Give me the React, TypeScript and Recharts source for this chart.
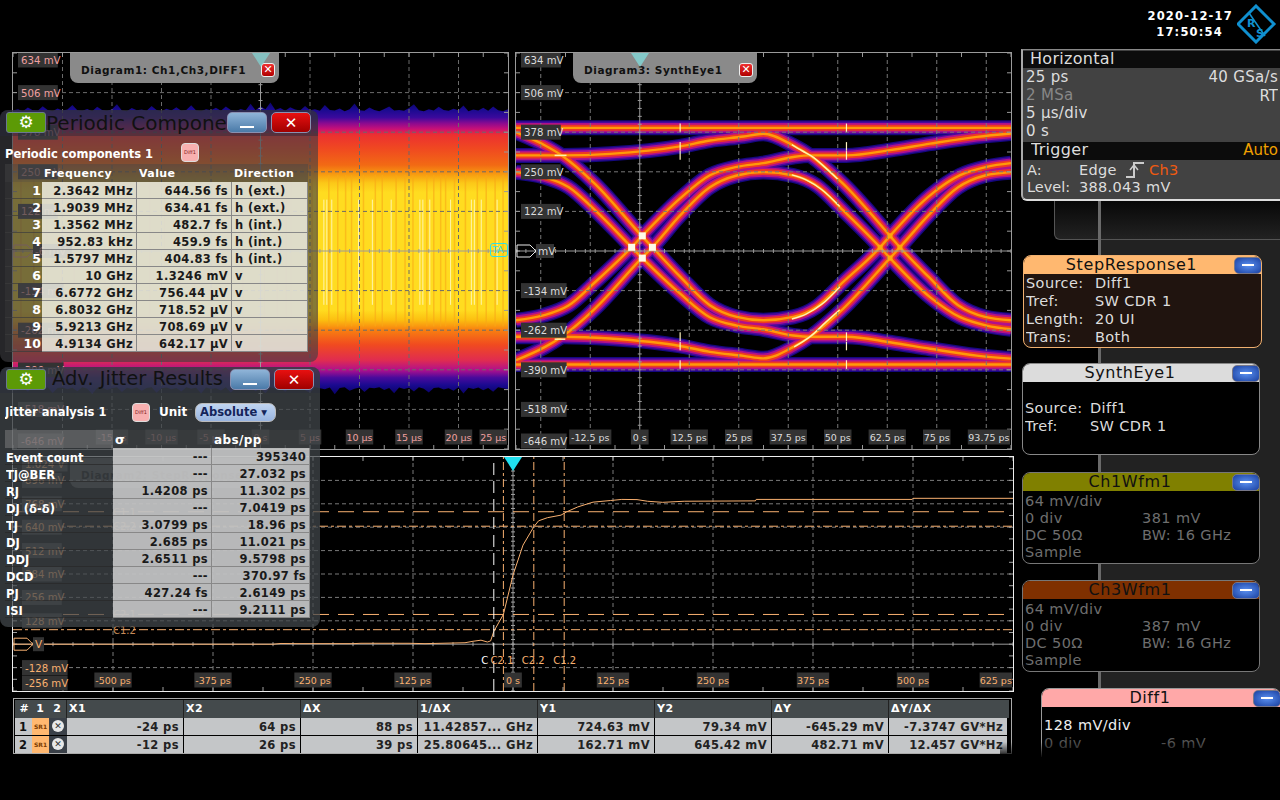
import React from 'react'
import { Area, ComposedChart, Line, ReferenceDot, ReferenceLine, XAxis, YAxis } from 'recharts'

const FONT = '"DejaVu Sans", sans-serif'

// Diagram 1: envelope of the waveform, mV against µs
const bandTimes = [-25, -24.5, -24, -23.5, -23, -22.5, -22, -21.5, -21, -20.5, -20, -19.5, -19, -18.5, -18, -17.5, -17, -16.5, -16, -15.5, -15, -14.5, -14, -13.5, -13, -12.5, -12, -11.5, -11, -10.5, -10, -9.5, -9, -8.5, -8, -7.5, -7, -6.5, -6, -5.5, -5, -4.5, -4, -3.5, -3, -2.5, -2, -1.5, -1, -0.5, 0, 0.5, 1, 1.5, 2, 2.5, 3, 3.5, 4, 4.5, 5, 5.5, 6, 6.5, 7, 7.5, 8, 8.5, 9, 9.5, 10, 10.5, 11, 11.5, 12, 12.5, 13, 13.5, 14, 14.5, 15, 15.5, 16, 16.5, 17, 17.5, 18, 18.5, 19, 19.5, 20, 20.5, 21, 21.5, 22, 22.5, 23, 23.5, 24, 24.5, 25]
const bandTop = [448, 452, 446, 458, 449, 447, 462, 450, 446, 455, 448, 451, 466, 449, 447, 453, 446, 460, 450, 447, 452, 468, 448, 446, 456, 449, 451, 447, 463, 450, 446, 454, 448, 459, 447, 450, 465, 448, 446, 452, 449, 457, 447, 461, 450, 446, 453, 448, 470, 449, 462, 452, 474, 450, 456, 447, 459, 451, 448, 463, 449, 452, 447, 466, 450, 448, 455, 446, 452, 471, 449, 447, 458, 450, 446, 453, 461, 448, 450, 447, 456, 468, 449, 446, 452, 448, 460, 450, 447, 454, 449, 464, 446, 451, 448, 457, 447, 461, 449, 446, 452]
const bandBottom = [-446, -452, -448, -461, -447, -450, -456, -446, -465, -449, -447, -453, -448, -459, -446, -451, -468, -449, -447, -455, -450, -446, -462, -448, -452, -447, -458, -449, -446, -464, -450, -447, -453, -449, -460, -446, -451, -448, -467, -447, -452, -450, -457, -446, -463, -449, -448, -454, -447, -459, -450, -466, -446, -452, -449, -461, -447, -451, -448, -456, -464, -446, -450, -453, -447, -469, -449, -446, -458, -451, -447, -462, -448, -450, -446, -455, -449, -466, -447, -452, -448, -460, -446, -451, -463, -449, -447, -454, -450, -458, -446, -467, -448, -452, -447, -456, -449, -461, -446, -450, -453]
const amberStreaks = [-24.2, -22.9, -21.6, -20.1, -18.8, -17.4, -15.7, -14.3, -12.6, -11.2, -9.7, -8.1, -6.6, -4.9, -3.3, -1.8, 0.4, 1.7, 2.6, 3.1, 4.6, 5.2, 5.7, 6.9, 7.8, 8.6, 9.2, 10.4, 11.6, 12.3, 13.7, 14.6, 15.4, 16.8, 17.5, 18.2, 18.7, 19.6, 20.7, 21.9, 22.8, 23.7, 24.5]
const paleStreaks = [6.4, 6.7, 7.2, 9.9, 11.3, 13.2, 16.1, 16.4, 17.1, 19.2, 21.3, 21.6, 22.3, 23.9]
const diagram1XTicks = [-15, -10, -5, 0, 5, 10, 15, 20, 25]
const diagram1YTicks = [-646, -518, -390, -262, -134, -6, 122, 250, 378, 506, 634]

// Diagram 3: synthetic eye, [ps, mV] along each trace
const eyeTraces = [
  [[-31.25, 392], [93.75, 392]],
  [[-31.25, -373], [93.75, -373]],
  [[-31.25, -230], [-24.35, -214], [-18, -182], [-11.3, -107], [-2.05, 6], [0.65, 43], [10.2, 164], [17.7, 239], [24.5, 266], [31.2, 278], [38.8, 298], [43, 303], [52.2, 303], [63.2, 320], [73.3, 341], [85.1, 363], [93.75, 374]],
  [[-31.25, -359], [-23.9, -316], [-19.7, -283], [-11.3, -192], [0.5, -29], [3.2, 6], [10.2, 109], [17.7, 200], [24.5, 238], [31.2, 249], [38.8, 238], [44.7, 206], [51.4, 125], [60.7, 6], [63.2, -29], [73.3, -155], [80.9, -220], [87.6, -247], [93.75, -259]],
  [[-31.25, 249], [-24.35, 234], [-18, 201], [-11.3, 126], [-2.05, 6], [0.65, -29], [10.2, -144], [17.7, -220], [24.5, -247], [31.2, -259], [38.8, -279], [43, -283], [52.2, -283], [63.2, -301], [73.3, -322], [85.1, -344], [93.75, -354]],
  [[-31.25, 378], [-23.9, 335], [-19.7, 303], [-11.3, 211], [0.5, 43], [3.2, 6], [10.2, -89], [17.7, -181], [24.5, -219], [31.2, -230], [38.8, -219], [44.7, -186], [51.4, -106], [60.7, 6], [63.2, 43], [73.3, 174], [80.9, 239], [87.6, 266], [93.75, 278]],
  [[-31.25, 303], [-19.3, 303], [-7.5, 308], [10.2, 332], [17.7, 351], [26.2, 364], [31.2, 373], [38.8, 335], [43, 303], [51.4, 211], [63.2, 43], [65.7, 6], [72.9, -89], [80.4, -181], [87.2, -219], [93.75, -230]],
  [[-31.25, -283], [-19.3, -283], [-7.5, -289], [10.2, -313], [17.7, -332], [26.2, -345], [31.2, -353], [38.8, -316], [43, -283], [51.4, -192], [63.2, -29], [65.7, 6], [72.9, 109], [80.4, 200], [87.2, 238], [93.75, 249]],
]
const eyeHotSegments = [
  [[38.4, 338], [41, 318], [43.5, 300], [47, 262], [50, 226]],
  [[38.4, 240], [42, 224], [46, 192], [50.5, 138]],
  [[38.4, -226], [42, -210], [46, -178], [50.5, -122]],
  [[39, -316], [43, -283], [47, -236], [50.5, -196]],
  [[-21.5, 303], [-18.5, 303]],
  [[-21.5, -291], [-18.8, -291]],
]
const eyeHotTicks = [10.2, 52.2]
const eyeCrossLeft = [[-2.05, 6], [3.2, 6], [0.65, 43], [0.65, -29]]
const eyeCrossRight = [[60.7, 6], [65.7, 6], [63.2, 43], [63.2, -29]]
const eyeXTicks = [-12.5, 0, 12.5, 25, 37.5, 50, 62.5, 75, 93.75]
const eyeXGrid = [-25, -12.5, 12.5, 25, 37.5, 50, 62.5, 75, 87.5]
const eyeLayers = [
  { color: '#14087e', width: 15 },
  { color: '#4a0a9c', width: 12.5 },
  { color: '#b0108c', width: 9.5 },
  { color: '#ee3a22', width: 6 },
  { color: '#ff9a08', width: 2.4 },
]

// Diagram 2: step response, mV against ps
const stepTimes = [-625, -380, -300, -290, -270, -200, -190, -130, -110, -60, -50, -40, -32, -28, -24, -12, 0, 12.5, 26, 32, 43, 60, 67, 81, 100, 122, 136, 155, 168, 187, 214, 303, 304, 499, 500, 625]
const stepValues = [0, 0, 0, 4, 3, 3, 5, 5, 3, 8, 16, 22, 12, 18, 70, 163, 378, 542, 642, 675, 692, 706, 724, 751, 777, 786, 792, 791, 782, 776, 782, 784, 792, 792, 798, 798]
const stepXTicks = [-500, -375, -250, -125, 0, 125, 250, 375, 500, 625]
const stepYTicks = [-256, -128, 0, 128, 256, 384, 512, 640, 768, 896, 1024]

// Cursor table, also where the cursor lines sit
const cursorHeaders = ['X1', 'X2', 'ΔX', '1/ΔX', 'Y1', 'Y2', 'ΔY', 'ΔY/ΔX']
const cursorRows = [
  ['-24 ps', '64 ps', '88 ps', '11.42857... GHz', '724.63 mV', '79.34 mV', '-645.29 mV', '-7.3747 GV*Hz'],
  ['-12 ps', '26 ps', '39 ps', '25.80645... GHz', '162.71 mV', '645.42 mV', '482.71 mV', '12.457 GV*Hz'],
]
const cursorX = [-24, 64, -12, 26]
const cursorY = [724.63, 79.34, 162.71, 645.42]
const cursorNames = ['C1.1', 'C1.2', 'C2.1', 'C2.2']

const periodicFreq = ['2.3642 MHz', '1.9039 MHz', '1.3562 MHz', '952.83 kHz', '1.5797 MHz', '10 GHz', '6.6772 GHz', '6.8032 GHz', '5.9213 GHz', '4.9134 GHz']
const periodicValue = ['644.56 fs', '634.41 fs', '482.7 fs', '459.9 fs', '404.83 fs', '1.3246 mV', '756.44 µV', '718.52 µV', '708.69 µV', '642.17 µV']
const periodicDir = ['h (ext.)', 'h (ext.)', 'h (int.)', 'h (int.)', 'h (int.)', 'v', 'v', 'v', 'v', 'v']

const jitterNames = ['Event count', 'TJ@BER', 'RJ', 'DJ (δ-δ)', 'TJ', 'DJ', 'DDJ', 'DCD', 'PJ', 'ISI']
const jitterSigma = ['---', '---', '1.4208 ps', '---', '3.0799 ps', '2.685 ps', '2.6511 ps', '---', '427.24 fs', '---']
const jitterAbs = ['395340', '27.032 ps', '11.302 ps', '7.0419 ps', '18.96 ps', '11.021 ps', '9.5798 ps', '370.97 fs', '2.6149 ps', '9.2111 ps']

const pts = (list: number[][]) => list.map(([t, v]) => ({ t, v }))
const bandRows = bandTimes.map((t, i) => ({ t, band: [bandBottom[i], bandTop[i]] }))
const stepRows = stepTimes.map((t, i) => ({ t, v: stepValues[i] }))

function Abs({ x, y, w, h, style, children }: any) {
  return <div style={{ position: 'absolute', left: x, top: y, width: w, height: h, ...style }}>{children}</div>
}

// one line of text, y is its vertical centre
function Label({ x, y, w, align = 'left', size = 11, bold = false, color = '#fff', spacing = 0, children }: any) {
  return (
    <div style={{ position: 'absolute', left: x, top: y - 12, width: w, height: 24, lineHeight: '24px', textAlign: align, fontSize: size, fontWeight: bold ? 700 : 400, color, letterSpacing: spacing, whiteSpace: 'pre', fontFamily: FONT, overflow: 'hidden' }}>
      {children}
    </div>
  )
}

function yTick(chartH: number, boxX: number, color: string, format: (v: number) => string, center: number, marker: string) {
  return (props: any) => {
    const value = props.payload.value
    let y = props.y
    if (y < 8) y = 7
    if (y > chartH - 9) y = chartH - 8
    const text = format(value)
    if (value === center) {
      return (
        <g>
          <path d={`M1 ${y - 6} H14 L20 ${y} L14 ${y + 6} H1 Z`} fill="none" stroke={marker} strokeWidth={1} />
          <rect x={20} y={y - 7} width={text.length * 7 + 4} height={14} fill="#333" />
          <text x={22} y={y + 4} fontSize={10.5} fontFamily={FONT} fill={color}>{text}</text>
        </g>
      )
    }
    return (
      <g>
        <rect x={boxX} y={y - 7.5} width={text.length * 5.8 + 5} height={15} fill="#333" />
        <text x={boxX + 3} y={y + 4} fontSize={10.2} fontFamily={FONT} fill={color}>{text}</text>
      </g>
    )
  }
}

function xTick(chartW: number, chartH: number, rowY: number, color: string, format: (v: number) => string) {
  return (props: any) => {
    const text = format(props.payload.value)
    const boxW = text.length * 4.9 + 3
    let x = props.x
    if (x + boxW / 2 > chartW - 1) x = chartW - 1 - boxW / 2
    return (
      <g>
        <rect x={x - boxW / 2} y={chartH - rowY - 7.5} width={boxW} height={15} fill="#333" />
        <text x={x} y={chartH - rowY + 4} textAnchor="middle" fontSize={9.5} fontFamily={FONT} fill={color}>{text}</text>
      </g>
    )
  }
}

function gridLines(xs: number[], ys: number[], stroke: string, x0: number, y0: number) {
  return [
    ...xs.map((x) => <ReferenceLine key={`gx${x}`} x={x} stroke={stroke} strokeDasharray="4 3" />),
    ...ys.map((y) => <ReferenceLine key={`gy${y}`} y={y} stroke={stroke} strokeDasharray="4 3" />),
    <ReferenceLine key="cx" x={x0} stroke="#9a9a9a" />,
    <ReferenceLine key="cy" y={y0} stroke="#9a9a9a" />,
  ]
}

// graticule ticks along the frame and the two centre lines
function fineMarks(xd: number[], yd: number[], x0: number, y0: number, pxX: number, pxY: number, stroke: string) {
  const out: React.ReactNode[] = []
  const xDiv = (xd[1] - xd[0]) / 10
  const yDiv = (yd[1] - yd[0]) / 10
  const lenY = (yDiv / pxY) * 4
  const lenX = (xDiv / pxX) * 4
  const seg = (k: string, a: number, b: number, c: number, d: number) => (
    <ReferenceLine key={k} segment={[{ x: a, y: b }, { x: c, y: d }]} stroke={stroke} />
  )
  for (let i = 0; i <= 20; i++) {
    const t = xd[0] + (i * xDiv) / 2
    const v = yd[0] + (i * yDiv) / 2
    out.push(seg(`t${i}`, t, yd[1], t, yd[1] - lenY))
    out.push(seg(`b${i}`, t, yd[0], t, yd[0] + lenY))
    out.push(seg(`l${i}`, xd[0], v, xd[0] + lenX, v))
    out.push(seg(`r${i}`, xd[1], v, xd[1] - lenX, v))
  }
  for (let i = 0; i <= 50; i++) {
    const t = xd[0] + (i * xDiv) / 5
    const v = yd[0] + (i * yDiv) / 5
    out.push(seg(`cx${i}`, t, y0 - lenY / 2, t, y0 + lenY / 2))
    out.push(seg(`cy${i}`, x0 - lenX / 2, v, x0 + lenX / 2, v))
  }
  return out
}

function Diagram1() {
  const W = 495
  const H = 396
  const xd = [-25, 25]
  const yd = [-646, 634]
  return (
    <ComposedChart width={W} height={H} data={bandRows} margin={{ top: 0, right: 0, bottom: 0, left: 0 }}>
      <defs>
        <linearGradient id="bandFill" gradientUnits="userSpaceOnUse" x1="0" y1="50" x2="0" y2="339">
          <stop offset="0" stopColor="#0c0470" />
          <stop offset="0.024" stopColor="#1a0a90" />
          <stop offset="0.05" stopColor="#3a0a9c" />
          <stop offset="0.07" stopColor="#8a0a90" />
          <stop offset="0.09" stopColor="#c81078" />
          <stop offset="0.11" stopColor="#ec3030" />
          <stop offset="0.16" stopColor="#f04a20" />
          <stop offset="0.215" stopColor="#f26a14" />
          <stop offset="0.25" stopColor="#f8a010" />
          <stop offset="0.277" stopColor="#fcc818" />
          <stop offset="0.31" stopColor="#ffdc20" />
          <stop offset="0.716" stopColor="#ffdc20" />
          <stop offset="0.75" stopColor="#fcc010" />
          <stop offset="0.785" stopColor="#f88010" />
          <stop offset="0.837" stopColor="#f04a20" />
          <stop offset="0.89" stopColor="#e02c50" />
          <stop offset="0.924" stopColor="#b0108c" />
          <stop offset="0.95" stopColor="#4a0a9c" />
          <stop offset="0.976" stopColor="#1a0a90" />
          <stop offset="1" stopColor="#0c0470" />
        </linearGradient>
      </defs>
      <XAxis dataKey="t" type="number" domain={xd} ticks={diagram1XTicks} interval={0} mirror axisLine={false} tickLine={false}
        tick={xTick(W, H, 12, '#f0a0a0', (v) => (v === 0 ? '0 s' : `${v} µs`))} />
      <YAxis type="number" domain={yd} ticks={diagram1YTicks} interval={0} mirror axisLine={false} tickLine={false}
        tick={yTick(H, 5, '#f0a0a0', (v) => `${v} mV`, -6, '#f0a0a0')} />
      <Area dataKey="band" type="linear" stroke="none" fill="url(#bandFill)" fillOpacity={1} isAnimationActive={false} activeDot={false} />
      {amberStreaks.map((t) => (
        <ReferenceLine key={`a${t}`} segment={[{ x: t, y: 240 }, { x: t, y: -250 }]} stroke="#f8a818" strokeOpacity={0.6} strokeWidth={1.5} />
      ))}
      {paleStreaks.map((t) => (
        <ReferenceLine key={`p${t}`} segment={[{ x: t, y: 160 }, { x: t, y: -180 }]} stroke="#fff8c8" strokeOpacity={0.85} />
      ))}
      {gridLines(diagram1XTicks.filter((t) => t !== 0 && t !== 25).concat([-20]), diagram1YTicks.filter((v) => v !== -6 && v !== 634 && v !== -646), '#6a6a6a', 0, -6)}
      {fineMarks(xd, yd, 0, -6, 49.5, 39.6, '#999')}
    </ComposedChart>
  )
}

function Diagram3() {
  const W = 495
  const H = 396
  const xd = [-31.25, 93.75]
  const yd = [-646, 634]
  return (
    <ComposedChart width={W} height={H} margin={{ top: 0, right: 0, bottom: 0, left: 0 }}>
      <XAxis dataKey="t" type="number" domain={xd} ticks={eyeXTicks} interval={0} mirror axisLine={false} tickLine={false}
        tick={xTick(W, H, 12, '#dcdcdc', (v) => (v === 0 ? '0 s' : `${v} ps`))} />
      <YAxis dataKey="v" type="number" domain={yd} ticks={diagram1YTicks} interval={0} mirror axisLine={false} tickLine={false}
        tick={yTick(H, 5, '#dcdcdc', (v) => (v === -6 ? 'mV' : `${v} mV`), -6, '#e8e8e8')} />
      {eyeLayers.map((layer) =>
        eyeTraces.map((trace, i) => (
          <Line key={`${layer.color}${i}`} data={pts(trace)} dataKey="v" type="monotone" stroke={layer.color} strokeWidth={layer.width} dot={false} activeDot={false} isAnimationActive={false} />
        )),
      )}
      {eyeHotSegments.map((seg, i) => (
        <Line key={`hot${i}`} data={pts(seg)} dataKey="v" type="monotone" stroke="#fff2b0" strokeWidth={1.5} dot={false} activeDot={false} isAnimationActive={false} />
      ))}
      {eyeHotTicks.flatMap((t) =>
        [392, 332, 303, -283, -313, -373].map((v) => (
          <ReferenceLine key={`hk${t}${v}`} segment={[{ x: t, y: v + 14 }, { x: t, y: v - 14 }]} stroke="#fff4c0" strokeWidth={1.2} />
        )),
      )}
      {gridLines(eyeXGrid, diagram1YTicks.filter((v) => v !== -6 && v !== 634 && v !== -646), '#777', 0, -6)}
      {fineMarks(xd, yd, 0, -6, 49.5, 39.6, '#999')}
      {eyeCrossLeft.map(([t, v]) => (
        <ReferenceDot key={`cl${t}${v}`} x={t} y={v} shape={(p: any) => <rect x={p.cx - 3.5} y={p.cy - 3.5} width={7} height={7} fill="#fffbe8" />} />
      ))}
      {eyeCrossRight.map(([t, v]) => (
        <ReferenceDot key={`cr${t}${v}`} x={t} y={v} shape={(p: any) => <rect x={p.cx - 2.5} y={p.cy - 2.5} width={5} height={5} fill="#ffa808" />} />
      ))}
    </ComposedChart>
  )
}

function Diagram2() {
  const W = 1000
  const H = 234
  const xd = [-625, 625]
  const yd = [-256, 1024]
  const orange = '#f8b070'
  const hLabel = (name: string) => (p: any) => (
    <text x={100} y={p.viewBox.y + 4} fontSize={10} fontFamily={FONT} fill={orange} opacity={0.8}>{name}</text>
  )
  const vLabelDx = [-9, -11, -13, -12]
  return (
    <ComposedChart width={W} height={H} data={stepRows} margin={{ top: 0, right: 0, bottom: 0, left: 0 }}>
      <XAxis dataKey="t" type="number" domain={xd} ticks={stepXTicks} interval={0} mirror axisLine={false} tickLine={false}
        tick={xTick(W, H, 11, orange, (v) => (v === 0 ? '0 s' : `${v} ps`))} />
      <YAxis type="number" domain={yd} ticks={stepYTicks} interval={0} mirror axisLine={false} tickLine={false}
        tick={yTick(H, 9, orange, (v) => (v === 0 ? 'V' : v === 1024 ? '1.024 V' : `${v} mV`), 0, orange)} />
      {gridLines(stepXTicks.filter((t) => t !== 0 && t !== 625), stepYTicks.filter((v) => v !== 0 && v !== 1024 && v !== -256), '#7a7a7a', 0, 0)}
      {fineMarks(xd, yd, 0, 0, 100, 23.43, '#a0a0a0')}
      <Line dataKey="v" type="linear" stroke={orange} strokeWidth={1} dot={false} activeDot={false} isAnimationActive={false} />
      {cursorY.map((v, i) => (
        <ReferenceLine key={cursorNames[i]} y={v} stroke={orange} strokeDasharray={i % 2 === 0 ? '16 9' : '9 3 3 3'} label={hLabel(cursorNames[i])} />
      ))}
      {cursorX.map((t, i) => (
        <ReferenceLine key={`v${i}`} x={t} stroke={i === 0 ? '#fff' : orange} strokeDasharray={i === 0 ? '12 6' : '8 3 3 3'}
          label={(p: any) => (
            <text x={p.viewBox.x + vLabelDx[i]} y={207} fontSize={10} fontFamily={FONT} fill={i === 0 ? '#fff' : orange} textAnchor={i === 0 ? 'middle' : 'start'}>
              {i === 0 ? 'C' : cursorNames[i]}
            </text>
          )} />
      ))}
    </ComposedChart>
  )
}

function DiagramTab({ x, y, w, title, dim }: any) {
  return (
    <Abs x={x} y={y} w={w} h={30} style={{ background: '#8a8a8a', borderRadius: '0 0 8px 8px', opacity: dim ? 0.45 : 1 }}>
      <Label x={11} y={17} w={w - 30} size={10.5} bold color="#111" spacing={0.55}>{title}</Label>
      <Abs x={w - 18} y={10} w={14} h={14} style={{ background: 'linear-gradient(#f03030,#b00000)', borderRadius: 3, border: '1px solid #eee', boxSizing: 'border-box', color: '#fff', fontSize: 11, fontWeight: 700, lineHeight: '12px', textAlign: 'center', fontFamily: FONT }}>✕</Abs>
    </Abs>
  )
}

function Triangle({ x, y, color, size = 9 }: any) {
  return <Abs x={x - size} y={y} w={0} h={0} style={{ borderLeft: `${size}px solid transparent`, borderRight: `${size}px solid transparent`, borderTop: `${size + 5}px solid ${color}` }} />
}

function PillButton({ x, y, w, h, kind }: any) {
  const bg = kind === 'close' ? 'linear-gradient(#e81010,#a00000)' : 'linear-gradient(#8fb4d8,#4a7aa8)'
  return (
    <Abs x={x} y={y} w={w} h={h} style={{ background: bg, borderRadius: 5, border: '1px solid #8a90b0', boxSizing: 'border-box' }}>
      {kind === 'close' ? (
        <Label x={0} y={h / 2 - 1} w={w - 2} align="center" size={15} bold>✕</Label>
      ) : (
        <Abs x={w / 2 - 8} y={h - 8} w={14} h={2} style={{ background: '#fff' }} />
      )}
    </Abs>
  )
}

function GearButton({ x, y }: any) {
  return (
    <Abs x={x} y={y} w={40} h={21} style={{ background: '#5c9a06', borderRadius: 3, border: '1px solid #6a7890', boxSizing: 'border-box' }}>
      <Label x={0} y={9} w={38} align="center" size={17}>⚙</Label>
    </Abs>
  )
}

function DiffIcon({ x, y }: any) {
  return (
    <Abs x={x} y={y} w={18} h={19} style={{ background: '#f8b0b0', borderRadius: 4, border: '1px solid #ddd', boxSizing: 'border-box' }}>
      <Label x={0} y={8} w={16} align="center" size={5} color="#802020">Diff1</Label>
    </Abs>
  )
}

function PeriodicPanel() {
  const cell = { background: 'rgba(236,236,226,0.86)', boxSizing: 'border-box' as const, borderRight: '1px solid #888', borderBottom: '1px solid #888' }
  return (
    <Abs x={0} y={110} w={318} h={252} style={{ background: 'rgba(62,62,66,0.62)', borderRadius: 8, overflow: 'hidden' }}>
      <Abs x={0} y={0} w={318} h={26} style={{ background: 'rgba(40,40,60,0.45)' }} />
      <GearButton x={6} y={2} />
      <Label x={46} y={13} w={181} size={20} color="#111">Periodic Components</Label>
      <PillButton x={227} y={2} w={40} h={21} kind="min" />
      <PillButton x={271} y={2} w={40} h={21} kind="close" />
      <Label x={5} y={44} w={170} size={11.5} bold>Periodic components 1</Label>
      <DiffIcon x={181} y={33} />
      <Abs x={5} y={54} w={303} h={18} style={{ background: 'rgba(70,70,70,0.45)' }} />
      <Label x={44} y={64} w={90} size={11} bold spacing={0.4}>Frequency</Label>
      <Label x={139} y={64} w={90} size={11} bold spacing={0.4}>Value</Label>
      <Label x={234} y={64} w={74} size={11} bold spacing={0.4}>Direction</Label>
      {periodicFreq.map((f, i) => (
        <React.Fragment key={f + i}>
          <Abs x={5} y={72 + i * 17} w={37} h={17} style={{ background: 'rgba(70,70,70,0.25)', borderBottom: '1px solid rgba(60,60,60,.7)', boxSizing: 'border-box' }} />
          <Label x={5} y={81 + i * 17} w={36} align="right" size={12.5} bold>{String(i + 1)}</Label>
          <Abs x={42} y={72 + i * 17} w={95} h={17} style={cell} />
          <Abs x={137} y={72 + i * 17} w={95} h={17} style={cell} />
          <Abs x={232} y={72 + i * 17} w={76} h={17} style={cell} />
          <Label x={42} y={81 + i * 17} w={91} align="right" size={11.5} color="#1a1a1a" spacing={0.35} bold>{f}</Label>
          <Label x={137} y={81 + i * 17} w={91} align="right" size={11.5} color="#1a1a1a" spacing={0.35} bold>{periodicValue[i]}</Label>
          <Label x={235} y={81 + i * 17} w={70} size={11.5} color="#1a1a1a" spacing={0.35} bold>{periodicDir[i]}</Label>
        </React.Fragment>
      ))}
    </Abs>
  )
}

function JitterPanel() {
  const cell = { background: 'rgba(214,214,214,0.82)', boxSizing: 'border-box' as const, borderRight: '1px solid #888', borderBottom: '1px solid #888' }
  return (
    <Abs x={0} y={367} w={320} h={260} style={{ background: 'rgba(66,72,76,0.74)', borderRadius: 8, overflow: 'hidden' }}>
      <Abs x={0} y={0} w={320} h={26} style={{ background: 'rgba(40,44,60,0.4)' }} />
      <GearButton x={6} y={2} />
      <Label x={52} y={12} w={176} size={19.5} color="#111">Adv. Jitter Results</Label>
      <PillButton x={230} y={2} w={40} h={21} kind="min" />
      <PillButton x={274} y={2} w={40} h={21} kind="close" />
      <Label x={5} y={45} w={120} size={11.5} bold>Jitter analysis 1</Label>
      <DiffIcon x={132} y={36} />
      <Label x={159} y={45} w={40} size={12} bold>Unit</Label>
      <Abs x={195} y={36} w={81} h={19} style={{ background: 'linear-gradient(#c0d4f0,#98b4e0)', borderRadius: 7, border: '1px solid #bbb', boxSizing: 'border-box' }}>
        <Label x={4} y={8} w={76} size={11.5} bold color="#14245a">Absolute ▾</Label>
      </Abs>
      <Abs x={5} y={63} w={108} h={18} style={{ background: 'rgba(150,150,150,0.4)' }} />
      <Abs x={113} y={63} w={197} h={18} style={{ background: 'rgba(70,70,70,0.35)' }} />
      <Label x={115} y={73} w={40} size={12.5} bold>σ</Label>
      <Label x={214} y={73} w={90} size={12} bold spacing={0.4}>abs/pp</Label>
      {jitterNames.map((n, i) => (
        <React.Fragment key={n}>
          <Abs x={5} y={81 + i * 17} w={108} h={17} style={{ borderBottom: '1px solid rgba(40,40,40,.7)', boxSizing: 'border-box' }} />
          <Label x={6} y={91 + i * 17} w={106} size={11.5} bold>{n}</Label>
          <Abs x={113} y={81 + i * 17} w={99} h={17} style={cell} />
          <Abs x={212} y={81 + i * 17} w={98} h={17} style={cell} />
          <Label x={113} y={90 + i * 17} w={95} align="right" size={11.5} bold color="#1a1a1a" spacing={0.35}>{jitterSigma[i]}</Label>
          <Label x={212} y={90 + i * 17} w={94} align="right" size={11.5} bold color="#1a1a1a" spacing={0.35}>{jitterAbs[i]}</Label>
        </React.Fragment>
      ))}
    </Abs>
  )
}

function CursorTable() {
  const cols = [66, 183, 300, 417, 537, 654, 771, 888, 1007]
  return (
    <Abs x={13} y={698} w={999} h={56} style={{ border: '1px solid #aaa', boxSizing: 'border-box', background: '#000' }}>
      <Abs x={1} y={1} w={994} h={18} style={{ background: '#444a4c' }} />
      <Label x={3} y={10} w={14} align="center" size={11} bold>#</Label>
      <Label x={19} y={10} w={14} align="center" size={11} bold>1</Label>
      <Label x={36} y={10} w={14} align="center" size={11} bold>2</Label>
      {cursorHeaders.map((h, i) => (
        <React.Fragment key={h}>
          <Label x={cols[i] - 13 + 2} y={10} w={100} size={11} bold spacing={0.6}>{h}</Label>
          <Abs x={cols[i] - 14} y={1} w={1} h={18} style={{ background: '#222' }} />
        </React.Fragment>
      ))}
      {cursorRows.map((row, r) => (
        <React.Fragment key={r}>
          <Abs x={1} y={19 + r * 18} w={17} h={17} style={{ background: '#c4c6c8', boxSizing: 'border-box' }} />
          <Label x={1} y={28 + r * 18} w={16} align="center" size={11.5} bold color="#111">{String(r + 1)}</Label>
          <Abs x={18} y={19 + r * 18} w={17} h={17} style={{ background: '#ffb870', boxSizing: 'border-box' }} />
          <Label x={18} y={28 + r * 18} w={17} align="center" size={6} bold color="#7a3a00">SR1</Label>
          <Abs x={35} y={19 + r * 18} w={18} h={17} style={{ background: '#3a4048' }} />
          <Abs x={38} y={21 + r * 18} w={12} h={12} style={{ background: '#e8e8e8', borderRadius: 6, color: '#333', fontSize: 9, lineHeight: '12px', textAlign: 'center', fontFamily: FONT }}>✕</Abs>
          {row.map((cell, c) => (
            <React.Fragment key={c}>
              <Abs x={cols[c] - 13} y={19 + r * 18} w={cols[c + 1] - cols[c] - 1} h={17} style={{ background: '#c4c6c8' }} />
              <Label x={cols[c] - 13} y={28 + r * 18} w={cols[c + 1] - cols[c] - 5} align="right" size={11.5} bold color="#222" spacing={0.4}>{cell}</Label>
            </React.Fragment>
          ))}
        </React.Fragment>
      ))}
    </Abs>
  )
}

function SideCard({ x, y, w, h, title, fill, border, titleColor = '#111', bg = '#000', rows, labelColor, valueX }: any) {
  return (
    <Abs x={x} y={y} w={w} h={h} style={{ background: bg, border: `1.5px solid ${border}`, borderRadius: 8, boxSizing: 'border-box', overflow: 'hidden' }}>
      <Abs x={-1} y={-1} w={w} h={19} style={{ background: fill }} />
      <Label x={0} y={9} w={w - 24} align="center" size={16} color={titleColor} spacing={0.6}>{title}</Label>
      <Abs x={w - 29} y={1} w={26} h={15} style={{ background: 'radial-gradient(#5a90f0,#1a40a0)', borderRadius: 5, border: '1px solid #778' }}>
        <Abs x={7} y={6} w={12} h={2} style={{ background: '#fff' }} />
      </Abs>
      {rows.map((r: any, i: number) => (
        <React.Fragment key={i}>
          <Label x={2} y={r.y} w={140} size={14.5} spacing={0.4} color={r.color || labelColor}>{r.left}</Label>
          {r.right && <Label x={valueX} y={r.y} w={150} size={14.5} spacing={0.4} color={r.color || labelColor}>{r.right}</Label>}
        </React.Fragment>
      ))}
    </Abs>
  )
}

function SidePanels() {
  const grey = '#6e6e6e'
  return (
    <>
      <Abs x={1101} y={240} w={179} h={517} style={{ background: '#222' }} />
      <Abs x={1054} y={190} w={226} h={50} style={{ background: 'linear-gradient(#000,#222)', borderLeft: '1px solid #555', borderBottom: '1px solid #555', borderRadius: '0 0 0 6px', boxSizing: 'border-box' }} />
      <Abs x={1098} y={200} w={3} h={490} style={{ background: '#6a6a6a' }} />

      <Abs x={1021} y={49} w={259} h={152} style={{ background: '#424242', borderLeft: '2px solid #aaa', borderBottom: '2px solid #ddd', borderTop: '1px solid #888', borderRadius: '0 0 0 6px', boxSizing: 'border-box' }} />
      <Abs x={1023} y={51} w={257} h={17} style={{ background: '#0c0c0c' }} />
      <Abs x={1023} y={142} w={257} h={18} style={{ background: '#0c0c0c' }} />
      <Label x={1030} y={59} w={120} size={16} color="#ddd" spacing={0.3}>Horizontal</Label>
      <Label x={1026} y={77} w={90} size={15} spacing={0.3} color="#ddd">25 ps</Label>
      <Label x={1026} y={95} w={90} size={15} spacing={0.3} color="#888">2 MSa</Label>
      <Label x={1026} y={113} w={90} size={15} spacing={0.3} color="#ddd">5 µs/div</Label>
      <Label x={1026} y={131} w={90} size={15} spacing={0.3} color="#ddd">0 s</Label>
      <Label x={1170} y={77} w={108} align="right" size={15} spacing={0.3} color="#ddd">40 GSa/s</Label>
      <Label x={1170} y={96} w={108} align="right" size={15} color="#ddd">RT</Label>
      <Label x={1031} y={150} w={100} size={16} color="#ddd" spacing={0.3}>Trigger</Label>
      <Label x={1200} y={150} w={78} align="right" size={15} color="#f0a000">Auto</Label>
      <Label x={1027} y={170} w={30} size={14.5} color="#ddd">A:</Label>
      <Label x={1079} y={170} w={50} size={14.5} spacing={0.3} color="#ddd">Edge</Label>
      <svg style={{ position: 'absolute', left: 1125, top: 161 }} width={21} height={18}>
        <path d="M1 16 H9 V2 H19" fill="none" stroke="#ccc" strokeWidth={2} />
        <path d="M5 9 L9 4 L13 9" fill="none" stroke="#ccc" strokeWidth={1.5} />
      </svg>
      <Label x={1149} y={170} w={50} size={14.5} spacing={0.3} color="#f05a10">Ch3</Label>
      <Label x={1027} y={187} w={60} size={14.5} color="#ddd">Level:</Label>
      <Label x={1079} y={187} w={120} size={14.5} spacing={0.3} color="#ddd">388.043 mV</Label>

      <SideCard x={1023} y={255} w={239} h={93} title="StepResponse1" fill="#ffb870" border="#f0b070" bg="#20140f" labelColor="#ddd" valueX={71}
        rows={[{ left: 'Source:', right: 'Diff1', y: 27 }, { left: 'Tref:', right: 'SW CDR 1', y: 45 }, { left: 'Length:', right: '20 UI', y: 63 }, { left: 'Trans:', right: 'Both', y: 81 }]} />
      <SideCard x={1022} y={363} w={238} h={92} title="SynthEye1" fill="#dcdcdc" border="#888" labelColor="#ddd" valueX={67}
        rows={[{ left: 'Source:', right: 'Diff1', y: 44 }, { left: 'Tref:', right: 'SW CDR 1', y: 62 }]} />
      <SideCard x={1022} y={472} w={238} h={92} title="Ch1Wfm1" fill="#808000" border="#777" labelColor={grey} valueX={119}
        rows={[{ left: '64 mV/div', y: 28 }, { left: '0 div', right: '381 mV', y: 45 }, { left: 'DC 50Ω', right: 'BW: 16 GHz', y: 62 }, { left: 'Sample', y: 79 }]} />
      <SideCard x={1022} y={580} w={238} h={92} title="Ch3Wfm1" fill="#7f3000" border="#777" labelColor={grey} valueX={119}
        rows={[{ left: '64 mV/div', y: 28 }, { left: '0 div', right: '387 mV', y: 45 }, { left: 'DC 50Ω', right: 'BW: 16 GHz', y: 62 }, { left: 'Sample', y: 79 }]} />
      <SideCard x={1041} y={688} w={240} h={92} title="Diff1" fill="#ffa8a8" border="#999" labelColor="#eee" valueX={119}
        rows={[{ left: '128 mV/div', y: 36 }, { left: '0 div', right: '-6 mV', y: 54, color: '#555' }]} />
      <Abs x={1000} y={742} w={280} h={16} style={{ background: 'linear-gradient(rgba(0,0,0,0),#000)' }} />
      <Abs x={1000} y={757} w={280} h={43} style={{ background: '#000' }} />
    </>
  )
}

function Header() {
  return (
    <>
      <Label x={1130} y={16} w={103} align="right" size={11.5} bold spacing={1.2}>2020-12-17</Label>
      <Label x={1130} y={32} w={93} align="right" size={11.5} bold spacing={1.2}>17:50:54</Label>
      <svg style={{ position: 'absolute', left: 1237, top: 4 }} width={40} height={40}>
        <path d="M19 2 L37 20 L19 38 L1 20 Z" fill="none" stroke="#1090d0" strokeWidth={3} />
        <path d="M12 9 L28 32" stroke="#1090d0" strokeWidth={1.5} />
        <text x={10} y={23} fontSize={11} fontWeight={700} fill="#1090d0" fontFamily={FONT}>R</text>
        <text x={19} y={33} fontSize={11} fontWeight={700} fill="#1090d0" fontFamily={FONT}>S</text>
      </svg>
    </>
  )
}

export default function App() {
  return (
    <div style={{ position: 'absolute', left: 0, top: 0, width: 1280, height: 800, background: '#000', overflow: 'hidden', fontFamily: FONT }}>
      <Header />
      <Abs x={13} y={53} w={495} h={396} style={{ outline: '1px solid #9a9a9a' }}><Diagram1 /></Abs>
      <Abs x={516} y={53} w={495} h={396} style={{ outline: '1px solid #9a9a9a' }}><Diagram3 /></Abs>
      <Abs x={12.5} y={457} w={1000} h={234} style={{ outline: '1px solid #eee' }}><Diagram2 /></Abs>

      <DiagramTab x={70} y={53} w={209} title="Diagram1: Ch1,Ch3,DIFF1" />
      <Triangle x={261} y={53} color="rgba(130,220,220,.65)" />
      <DiagramTab x={573} y={53} w={184} title="Diagram3: SynthEye1" />
      <Triangle x={640} y={53} color="rgba(130,220,220,.75)" />
      <DiagramTab x={70} y={458} w={213} title="Diagram2: StepResponse1" dim />
      <Triangle x={512.5} y={457} color="#20e0f0" />

      <Abs x={490} y={243} w={18} h={14} style={{ border: '1px solid #30e0e8', boxSizing: 'border-box', borderRadius: 3 }}>
        <Label x={1} y={6} w={16} size={9.5} color="#30e0e8">TA</Label>
      </Abs>

      <PeriodicPanel />
      <JitterPanel />
      <CursorTable />
      <SidePanels />
    </div>
  )
}
